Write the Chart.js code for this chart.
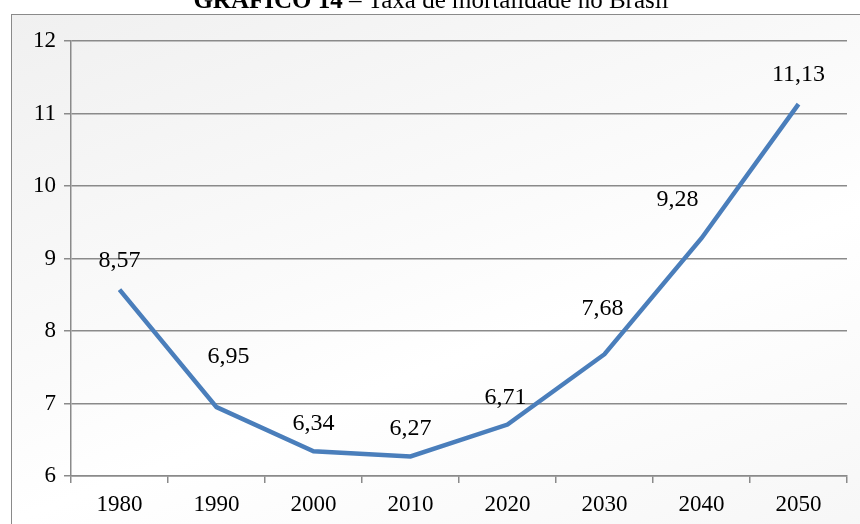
<!DOCTYPE html>
<html lang="pt">
<head>
    <meta charset="UTF-8">
    <title>Taxa de mortalidade no Brasil</title>
    <style>
        * {
            padding: 0;
            margin: 0;
        }
        body {
            width: 860px;
            height: 524px;
            overflow: hidden;
            background: #ffffff;
            position: relative;
        }
        /* moldura do grafico */
        .frame {
            position: absolute;
            left: 11px;
            top: 14px;
            width: 860px;
            height: 530px;
            border: 1px solid #8a8a8a;
            background: linear-gradient(160deg, #f0f0f0 0%, #fbfbfb 45%, #ffffff 60%, #f6f6f6 100%);
        }
        canvas {
            position: absolute;
            left: 0;
            top: 0;
        }
    </style>
</head>
<body>
    <div class="frame"></div>
    <canvas id="mortalidadeChart" width="860" height="524"></canvas>

    <script src="https://cdn.jsdelivr.net/npm/chart.js"></script>
    <script>
        // dados do grafico
        const anos = ['1980', '1990', '2000', '2010', '2020', '2030', '2040', '2050'];
        const taxaMortalidade = [8.57, 6.95, 6.34, 6.27, 6.71, 7.68, 9.28, 11.13];
        const eixoY = [6, 7, 8, 9, 10, 11, 12];

        const fonte = "'Liberation Serif', 'Times New Roman', serif";
        const cinza = '#8a8a8a';

        // deslocamento dos rotulos em relacao ao ponto (como no original)
        const deslocRotulos = [[0, -29], [12, -50], [0, -28], [0, -28], [-2, -27], [-2, -45], [-24, -38], [0, -29]];

        // titulo com parte em negrito
        const tituloPlugin = {
            id: 'titulo',
            afterDraw(chart) {
                const ctx = chart.ctx;
                const negrito = 'GRÁFICO 14';
                const resto = ' – Taxa de mortalidade no Brasil';
                ctx.save();
                ctx.fillStyle = '#000';
                ctx.textBaseline = 'alphabetic';
                ctx.font = 'bold 25px ' + fonte;
                const w1 = ctx.measureText(negrito).width;
                ctx.font = '25px ' + fonte;
                const w2 = ctx.measureText(resto).width;
                const x0 = 431 - (w1 + w2) / 2;
                ctx.font = 'bold 25px ' + fonte;
                ctx.fillText(negrito, x0, 8);
                ctx.font = '25px ' + fonte;
                ctx.fillText(resto, x0 + w1, 8);
                ctx.restore();
            }
        };

        // rotulos de valores
        const rotulosPlugin = {
            id: 'rotulos',
            afterDatasetsDraw(chart) {
                const ctx = chart.ctx;
                const meta = chart.getDatasetMeta(0);
                ctx.save();
                ctx.font = '24px ' + fonte;
                ctx.fillStyle = '#000';
                ctx.textAlign = 'center';
                ctx.textBaseline = 'middle';
                meta.data.forEach((pt, i) => {
                    const d = deslocRotulos[i];
                    const txt = taxaMortalidade[i].toFixed(2).replace('.', ',');
                    ctx.fillText(txt, pt.x + d[0], pt.y + d[1]);
                });
                ctx.restore();
            }
        };

        const ctx = document.getElementById('mortalidadeChart').getContext('2d');
        new Chart(ctx, {
            type: 'line',
            data: {
                labels: anos,
                datasets: [{
                    data: taxaMortalidade,
                    borderColor: '#4a7ebb',
                    borderWidth: 4.5,
                    pointRadius: 0,
                    tension: 0,
                    fill: false,
                }]
            },
            options: {
                responsive: false,
                animation: false,
                layout: {
                    padding: { left: 0, top: 41, right: 13, bottom: 0 }
                },
                plugins: {
                    legend: { display: false },
                    tooltip: { enabled: false }
                },
                scales: {
                    x: {
                        offset: true,
                        afterFit(scale) { scale.height = 48; },
                        grid: {
                            offset: true,
                            drawOnChartArea: false,
                            color: cinza,
                            lineWidth: 1.5,
                            tickLength: 7
                        },
                        border: { color: cinza, width: 1.5 },
                        ticks: {
                            color: '#000',
                            font: { family: fonte, size: 23 },
                            padding: 8,
                            maxRotation: 0
                        }
                    },
                    y: {
                        min: eixoY[0],
                        max: eixoY[eixoY.length - 1],
                        afterFit(scale) { scale.width = 71; },
                        afterBuildTicks(scale) { scale.ticks = eixoY.map(v => ({ value: v })); },
                        grid: {
                            color: cinza,
                            lineWidth: 1.5,
                            tickLength: 7
                        },
                        border: { color: cinza, width: 1.5 },
                        ticks: {
                            color: '#000',
                            font: { family: fonte, size: 23 },
                            padding: 8
                        }
                    }
                }
            },
            plugins: [tituloPlugin, rotulosPlugin]
        });
    </script>
</body>
</html>
